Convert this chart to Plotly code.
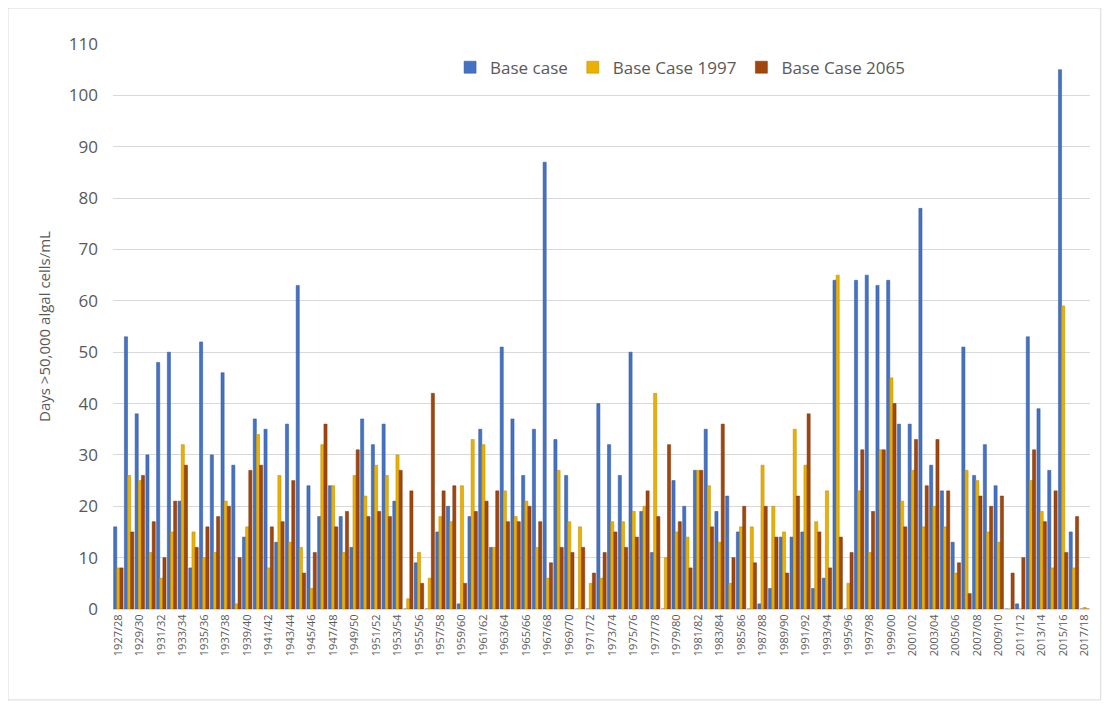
import plotly.graph_objects as go

# Seasons 1927/28 .. 2017/18
seasons = [f"{y}/{str(y + 1)[-2:]}" for y in range(1927, 2018)]

base_case = [16, 53, 38, 30, 48, 50, 21, 8, 52, 30,
             46, 28, 14, 37, 35, 13, 36, 63, 24, 18,
             24, 18, 12, 37, 32, 36, 21, 0, 9, 0,
             15, 20, 1, 18, 35, 12, 51, 37, 26, 35,
             87, 33, 26, 0, 0, 40, 32, 26, 50, 19,
             11, 0, 25, 20, 27, 35, 19, 22, 15, 0,
             1, 4, 14, 14, 15, 4, 6, 64, 0, 64,
             65, 63, 64, 36, 36, 78, 28, 23, 13, 51,
             26, 32, 24, 0, 1, 53, 39, 27, 105, 15,
             0]

base_1997 = [8, 26, 25, 11, 6, 15, 32, 15, 10, 11,
             21, 1, 16, 34, 8, 26, 13, 12, 4, 32,
             24, 11, 26, 22, 28, 26, 30, 2, 11, 6,
             18, 17, 24, 33, 32, 12, 23, 18, 21, 12,
             6, 27, 17, 16, 5, 6, 17, 17, 19, 20,
             42, 10, 15, 14, 27, 24, 13, 5, 16, 16,
             28, 20, 15, 35, 28, 17, 23, 65, 5, 23,
             11, 31, 45, 21, 27, 16, 20, 16, 7, 27,
             25, 15, 13, 0, 0, 25, 19, 8, 59, 8,
             0.3]

base_2065 = [8, 15, 26, 17, 10, 21, 28, 12, 16, 18,
             20, 10, 27, 28, 16, 17, 25, 7, 11, 36,
             16, 19, 31, 18, 19, 18, 27, 23, 5, 42,
             23, 24, 5, 19, 21, 23, 17, 17, 20, 17,
             9, 12, 11, 12, 7, 11, 15, 12, 14, 23,
             18, 32, 17, 8, 27, 16, 36, 10, 20, 9,
             20, 14, 7, 22, 38, 15, 8, 14, 11, 31,
             19, 31, 40, 16, 33, 24, 33, 23, 9, 3,
             22, 20, 22, 7, 10, 31, 17, 23, 11, 18,
             0]

grey = '#595959'

trace1 = go.Bar(x=seasons, y=base_case, name='Base case',
                marker={'color': '#4472C4', 'line': {'color': '#2F5597', 'width': 0.5}})
trace2 = go.Bar(x=seasons, y=base_1997, name='Base Case 1997',
                marker={'color': '#EBB000', 'line': {'color': '#B88A00', 'width': 0.5}})
trace3 = go.Bar(x=seasons, y=base_2065, name='Base Case 2065',
                marker={'color': '#A0460F', 'line': {'color': '#7A340A', 'width': 0.5}})
data = [trace1, trace2, trace3]

# the page adds an 8px body margin, so margins are shifted to match
layout = go.Layout(
    width=1111, height=706,
    margin={'l': 105, 'r': 29, 't': 36, 'b': 105},
    paper_bgcolor='white', plot_bgcolor='white',
    font={'family': 'Open Sans, Noto Sans, sans-serif', 'color': grey},
    barmode='group', bargap=0.12, bargroupgap=0,
    showlegend=True,
    legend={'orientation': 'h', 'x': 0.345, 'y': 0.99, 'xanchor': 'left', 'yanchor': 'top',
            'font': {'size': 17, 'color': grey}, 'itemwidth': 30, 'bgcolor': 'rgba(0,0,0,0)'},
    xaxis={'type': 'category', 'tickmode': 'array', 'tickvals': seasons[::2],
           'tickangle': -90, 'tickfont': {'size': 11, 'color': grey},
           'showline': True, 'linecolor': '#D9D9D9', 'showgrid': False, 'ticks': ''},
    yaxis={'range': [0, 110], 'dtick': 10, 'showgrid': True, 'gridcolor': '#D9D9D9',
           'zeroline': False, 'tickfont': {'size': 17, 'color': grey}, 'ticks': '',
           'ticklabelstandoff': 14,
           'title': {'text': 'Days >50,000 algal cells/mL', 'font': {'size': 15, 'color': grey},
                     'standoff': 14}},
    shapes=[{'type': 'rect', 'xref': 'paper', 'yref': 'paper',
             'x0': -0.1075, 'x1': 1.011, 'y0': -0.161, 'y1': 1.0637,
             'line': {'color': '#D9D9D9', 'width': 1}}],
)

fig = go.Figure(data=data, layout=layout)
fig.write_html("out.html")
